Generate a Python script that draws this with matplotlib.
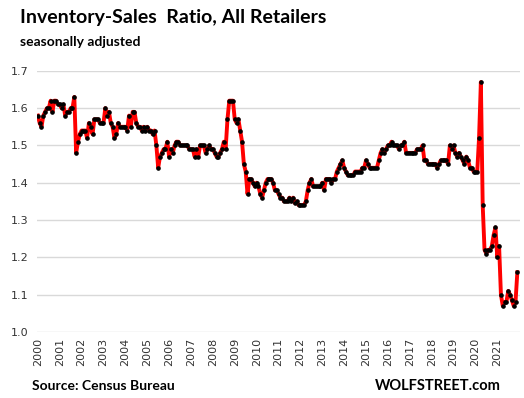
import numpy as np
import matplotlib
matplotlib.use("Agg")
import matplotlib.pyplot as plt

# monthly inventory-sales ratio, Jan..Dec of each year
y2000 = [1.58, 1.56, 1.55, 1.58, 1.59, 1.60, 1.60, 1.62, 1.59, 1.62, 1.62, 1.61]
y2001 = [1.61, 1.60, 1.61, 1.58, 1.59, 1.59, 1.60, 1.60, 1.63, 1.48, 1.51, 1.53]
y2002 = [1.54, 1.54, 1.54, 1.52, 1.56, 1.55, 1.53, 1.57, 1.57, 1.57, 1.56, 1.56]
y2003 = [1.56, 1.60, 1.58, 1.59, 1.56, 1.55, 1.52, 1.53, 1.56, 1.55, 1.55, 1.55]
y2004 = [1.55, 1.54, 1.58, 1.55, 1.59, 1.59, 1.56, 1.55, 1.55, 1.54, 1.55, 1.54]
y2005 = [1.55, 1.54, 1.54, 1.53, 1.54, 1.50, 1.44, 1.47, 1.48, 1.49, 1.49, 1.51]
y2006 = [1.47, 1.49, 1.48, 1.50, 1.51, 1.51, 1.50, 1.50, 1.50, 1.50, 1.50, 1.49]
y2007 = [1.49, 1.49, 1.47, 1.49, 1.47, 1.50, 1.50, 1.50, 1.48, 1.49, 1.50, 1.49]
y2008 = [1.49, 1.48, 1.47, 1.47, 1.48, 1.49, 1.51, 1.49, 1.57, 1.62, 1.62, 1.62]
y2009 = [1.57, 1.56, 1.57, 1.54, 1.51, 1.45, 1.43, 1.37, 1.41, 1.41, 1.40, 1.39]
y2010 = [1.40, 1.39, 1.37, 1.36, 1.38, 1.40, 1.41, 1.41, 1.41, 1.40, 1.38, 1.38]
y2011 = [1.37, 1.36, 1.36, 1.35, 1.35, 1.35, 1.36, 1.35, 1.36, 1.345, 1.35, 1.34]
y2012 = [1.34, 1.34, 1.34, 1.35, 1.38, 1.40, 1.41, 1.39, 1.39, 1.39, 1.39, 1.39]
y2013 = [1.40, 1.38, 1.41, 1.41, 1.41, 1.40, 1.41, 1.41, 1.43, 1.44, 1.45, 1.46]
y2014 = [1.44, 1.43, 1.42, 1.42, 1.42, 1.42, 1.43, 1.43, 1.43, 1.43, 1.44, 1.44]
y2015 = [1.46, 1.45, 1.44, 1.44, 1.44, 1.44, 1.44, 1.46, 1.48, 1.49, 1.48, 1.49]
y2016 = [1.50, 1.50, 1.51, 1.50, 1.50, 1.50, 1.49, 1.50, 1.50, 1.51, 1.48, 1.48]
y2017 = [1.48, 1.48, 1.48, 1.48, 1.49, 1.49, 1.49, 1.50, 1.46, 1.46, 1.45, 1.45]
y2018 = [1.45, 1.45, 1.45, 1.44, 1.45, 1.46, 1.46, 1.46, 1.46, 1.45, 1.50, 1.49]
y2019 = [1.50, 1.48, 1.47, 1.48, 1.47, 1.46, 1.45, 1.47, 1.46, 1.44, 1.44, 1.43]
y2020 = [1.43, 1.43, 1.52, 1.67, 1.34, 1.22, 1.21, 1.22, 1.22, 1.23, 1.26, 1.28]
y2021 = [1.20, 1.23, 1.10, 1.07, 1.08, 1.08, 1.11, 1.10, 1.085, 1.07, 1.08, 1.16]

years = list(range(2000, 2022))
ratio = np.concatenate([y2000, y2001, y2002, y2003, y2004, y2005, y2006, y2007,
                        y2008, y2009, y2010, y2011, y2012, y2013, y2014, y2015,
                        y2016, y2017, y2018, y2019, y2020, y2021])
months = np.arange(len(ratio))

fig = plt.figure(figsize=(5.24, 3.98), dpi=100)
ax = fig.add_axes([0.0705, 0.166, 0.922, 0.656])

ax.plot(months, ratio, color="red", lw=2.8, marker="o", ms=2.3,
        mfc="black", mec="black", zorder=3)

ax.set_ylim(1.0, 1.7)
ax.set_yticks(np.arange(1.0, 1.71, 0.1))
ax.set_yticklabels([f"{v:.1f}" for v in np.arange(1.0, 1.71, 0.1)])
ax.set_xlim(-0.5, len(ratio) + 0.5)
ax.set_xticks([12 * i for i in range(len(years))])
ax.set_xticklabels([str(y) for y in years], rotation=90)

ax.grid(axis="y", color="#d9d9d9", lw=1)
ax.set_axisbelow(True)
for s in ax.spines.values():
    s.set_visible(False)
ax.tick_params(length=0, labelsize=8, colors="#333333", pad=6)
ax.tick_params(axis="x", pad=4)

fig.text(0.038, 0.955, "Inventory-Sales  Ratio, All Retailers", fontsize=14,
         fontweight="bold", family="Lato", va="center")
fig.text(0.038, 0.895, "seasonally adjusted", fontsize=10,
         fontweight="bold", family="Lato", va="center")
fig.text(0.061, 0.030, "Source: Census Bureau", fontsize=10,
         fontweight="bold", family="Lato", va="center")
fig.text(0.955, 0.030, "WOLFSTREET.com", fontsize=10.5,
         fontweight="bold", family="Lato", va="center", ha="right")

fig.savefig("out.png", dpi=100)
